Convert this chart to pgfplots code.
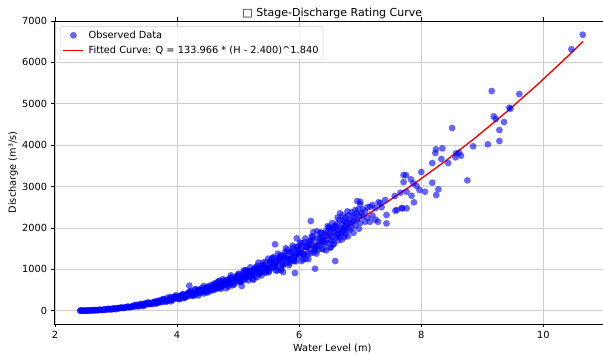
\documentclass[border=0pt]{standalone}
\usepackage{fontspec}
\setmainfont{DejaVu Sans}
\usepackage{pgfplots}
\usepackage{pgfplotstable}
\pgfplotsset{compat=1.18}
\definecolor{gridc}{RGB}{205,205,205}
\definecolor{legc}{RGB}{204,204,204}
\pgfplotstableread{
H Q
2.410 0
2.420 4
2.433 7
2.450 -3
2.467 2
2.483 -3
2.500 9
2.517 0
2.533 7
2.550 -3
2.567 10
2.583 12
2.600 3
2.617 10
2.633 8
2.650 17
2.667 8
2.683 15
2.700 10
2.717 19
2.733 26
2.750 18
2.767 19
2.783 19
2.800 28
2.817 25
2.833 37
2.850 23
2.867 41
2.883 48
2.900 32
2.917 34
2.933 36
2.950 59
2.967 44
2.983 58
3.000 37
3.017 63
3.033 59
3.050 58
3.067 71
3.083 78
3.100 70
3.117 66
3.133 69
3.150 79
3.167 81
3.183 98
3.200 96
3.217 81
3.233 91
3.250 92
3.267 104
3.283 123
3.300 98
3.317 133
3.333 143
3.350 112
3.367 106
3.383 118
3.400 164
3.417 136
3.433 158
3.450 114
3.467 166
3.483 146
3.500 159
3.517 184
3.533 201
3.550 165
3.567 168
3.583 160
3.600 196
3.617 185
3.633 216
3.650 224
3.667 182
3.683 206
3.700 194
3.717 230
3.733 257
3.750 213
3.767 275
3.783 285
3.800 232
3.817 213
3.833 239
3.850 318
3.867 271
3.883 302
3.900 226
3.917 316
3.933 270
3.950 302
3.967 344
3.983 374
4.000 296
4.017 310
4.033 286
4.050 358
4.067 328
4.083 376
4.100 398
4.117 318
4.133 359
4.150 330
4.167 399
4.183 434
4.200 365
4.217 463
4.233 471
4.250 391
4.267 355
4.283 397
4.300 518
4.317 448
4.333 488
4.350 369
4.367 509
4.383 428
4.400 485
4.417 549
4.433 592
4.450 464
4.467 490
4.483 444
4.500 561
4.517 509
4.533 576
4.550 615
4.567 490
4.583 549
4.600 499
4.617 610
4.633 652
4.650 554
4.667 696
4.683 701
4.700 585
4.717 529
4.733 589
4.750 762
4.767 663
4.783 714
4.800 544
4.817 743
4.833 619
4.850 707
4.867 796
4.883 856
4.900 665
4.917 707
4.933 633
4.950 804
4.967 725
4.983 814
5.000 874
5.017 694
5.033 776
5.050 699
5.067 859
5.083 911
5.100 777
5.117 972
5.133 971
5.150 815
5.167 734
5.183 815
5.200 1049
5.217 916
5.233 978
5.250 749
5.267 1017
5.283 842
5.300 965
5.317 1085
5.333 1162
5.350 899
5.367 959
5.383 852
5.400 1086
5.417 976
5.433 1090
5.450 1174
5.467 930
5.483 1037
5.500 931
5.517 1148
5.533 1209
5.550 1034
5.567 1288
5.583 1282
5.600 1078
5.617 970
5.633 1073
5.650 1378
5.667 1205
5.683 1281
5.700 982
5.717 1331
5.733 1097
5.750 1260
5.767 1415
5.783 1510
5.800 1166
5.817 1246
5.833 1102
5.850 1407
5.867 1261
5.883 1403
5.900 1514
5.917 1198
5.933 1332
5.950 1193
5.967 1473
5.983 1545
6.000 1324
6.017 1646
6.033 1631
6.050 1374
6.067 1235
6.083 1364
6.100 1748
6.117 1530
6.133 1620
6.150 1245
6.167 1683
6.183 1381
6.200 1590
6.217 1783
6.233 1900
6.250 1464
6.267 1567
6.283 1380
6.300 1764
6.317 1579
6.333 1751
6.350 1892
6.367 1495
6.383 1661
6.400 1484
6.417 1836
6.433 1918
6.450 1646
6.467 2043
6.483 2019
6.500 1703
6.517 1530
4.625 613
4.675 565
4.725 645
4.775 638
4.825 738
4.875 674
4.925 737
4.975 802
5.025 736
5.075 836
5.125 822
5.175 946
5.225 860
5.275 935
5.325 1014
5.375 926
5.425 1048
5.475 1027
5.525 1178
5.575 1067
5.625 1156
5.675 1248
5.725 1137
5.775 1281
5.825 1252
5.875 1432
5.925 1293
5.975 1397
6.025 1504
6.075 1366
6.125 1537
6.175 1498
6.225 1708
6.275 1539
6.325 1659
6.375 1782
6.425 1616
6.475 1813
3.908 254
3.958 336
4.008 312
4.058 360
4.108 302
4.158 390
4.208 454
4.258 391
4.308 393
4.358 513
4.408 470
4.458 537
4.508 446
4.558 570
4.608 657
4.658 560
4.708 558
4.758 723
4.808 657
4.858 745
4.908 615
4.958 780
5.008 894
5.058 757
5.108 750
5.158 965
5.208 873
5.258 985
5.308 808
5.358 1020
5.408 1163
5.458 980
5.508 967
5.558 1239
5.608 1116
5.658 1254
5.708 1024
5.758 1289
5.808 1464
5.858 1230
5.908 1209
5.958 1544
6.008 1386
6.058 1552
6.108 1265
6.158 1586
6.208 1797
6.258 1505
6.308 1475
6.358 1879
6.408 1683
6.458 1880
6.508 1527
3.392 145
3.442 129
3.492 187
3.542 166
3.592 189
3.642 168
3.692 241
3.742 212
3.792 269
3.842 234
3.892 331
3.942 288
3.992 321
4.042 279
4.092 395
4.142 341
4.192 427
4.242 366
4.292 511
4.342 439
4.392 484
4.442 417
4.492 582
4.542 499
4.592 617
4.642 524
4.692 726
4.742 619
4.792 678
4.842 578
4.892 803
4.942 683
4.992 839
5.042 708
5.092 975
5.142 827
5.192 900
5.242 764
5.292 1055
5.342 892
5.392 1092
5.442 917
5.492 1257
5.542 1062
5.592 1150
5.642 973
5.692 1338
5.742 1128
5.792 1375
5.842 1151
5.892 1572
5.942 1323
5.992 1429
6.042 1204
6.092 1651
6.142 1388
6.192 1688
6.242 1409
6.292 1918
6.342 1611
6.392 1734
6.442 1458
6.492 1995
4.200 604
5.060 597
5.605 1604
5.735 935
5.930 911
5.960 1749
6.190 2167
6.260 1015
6.590 1201
6.510 1850
6.540 2120
6.560 1600
6.580 2050
6.610 1950
6.630 2250
6.650 1850
6.690 2000
6.710 2300
6.730 1950
6.750 2150
6.770 2050
6.790 2400
6.820 2200
6.850 2150
6.880 2300
6.910 2250
6.940 2350
6.970 2450
7.020 2350
6.530 1950
6.530 1690
6.550 1780
6.550 1990
6.570 1620
6.570 1900
6.600 2050
6.600 1760
6.620 1830
6.620 2100
6.640 1700
6.640 1950
6.660 2200
6.660 1780
6.680 1870
6.670 2353
6.700 2080
6.700 1720
6.720 1900
6.720 2180
6.740 2010
6.740 1780
6.760 2250
6.760 1850
6.780 1960
6.780 2120
6.800 2300
6.800 1800
6.830 2100
6.830 1950
6.860 2380
6.860 2000
6.890 2150
6.890 1880
6.920 2433
6.920 2060
6.950 2650
6.950 2200
6.980 1980
6.980 2300
7.000 2571
7.000 2633
7.000 2120
7.040 2280
7.040 2450
7.080 2150
7.080 2400
7.120 2500
7.120 2250
7.160 2513
7.160 2150
7.200 2554
7.200 2300
7.250 2480
7.250 2200
7.290 2150
7.300 2620
7.330 2600
7.350 2500
7.410 2675
7.430 2312
7.430 2110
7.565 2771
7.575 2416
7.600 2433
7.660 2851
7.680 2480
7.690 2474
7.710 3109
7.710 3279
7.750 3271
7.760 2875
7.760 2474
7.830 3175
7.840 2778
7.870 3078
7.880 2619
7.925 3013
7.970 2916
8.000 3351
8.060 2875
8.180 3568
8.180 3093
8.230 3810
8.240 3899
8.245 2795
8.280 2933
8.330 3665
8.345 3923
8.440 3568
8.506 4414
8.560 3706
8.570 3803
8.620 3817
8.650 3745
8.755 3150
8.850 3972
9.090 4020
9.154 5308
9.187 4697
9.220 4631
9.280 4366
9.280 4100
9.355 4559
9.443 4905
9.460 4880
9.607 5235
10.460 6315
10.645 6668
}\obs
\pgfplotstableread{
H Q
2.40 0
2.45 0.5
2.50 1.9
2.60 6.9
2.70 14.6
2.80 24.8
2.90 37.4
3.00 52.3
3.10 69.5
3.20 88.9
3.30 110.3
3.40 134.0
3.50 159.6
3.60 187.4
3.70 217.1
3.80 248.8
3.90 282.5
4.00 318.1
4.20 395.1
4.40 479.6
4.60 571.6
4.80 670.8
5.00 777.2
5.20 890.8
5.40 1011.3
5.60 1139.0
5.80 1273.4
6.00 1414.6
6.20 1562.6
6.40 1717.3
6.60 1878.6
6.80 2046.3
7.00 2221.0
7.40 2588
7.90 3085
8.40 3621
8.90 4196
9.40 4808
9.90 5458
10.40 6147
10.65 6505
}\fit
\begin{document}
\begin{tikzpicture}
\path[use as bounding box, clip] (0pt,0pt) rectangle (603pt,356pt);
\begin{axis}[
  at={(54.1pt,32pt)}, anchor=south west,
  scale only axis, width=556.4pt, height=303pt,
  xmin=1.985, xmax=11.1, ymin=-321, ymax=7000,
  xtick={2,4,6,8,10}, ytick={0,1000,...,7000},
  scaled y ticks=false,
  /pgf/number format/1000 sep={},
  /pgf/number format/assume math mode=true,
  tick label style={font=\fontsize{9.8}{11}\selectfont},
  tick align=outside, major tick length=3.5pt,
  tick style={black, line width=0.8pt},
  axis line style={black, line width=0.8pt},
  grid=major, major grid style={gridc, line width=0.8pt},
  title={□ Stage-Discharge Rating Curve},
  title style={at={(0.5,1)}, anchor=base, yshift=-1.3pt, font=\fontsize{11}{13}\selectfont},
  xlabel={Water Level (m)},
  ylabel={Discharge (m³/s)},
  label style={font=\fontsize{9.8}{11}\selectfont},
  xlabel style={at={(axis description cs:0.5,0)}, anchor=base, yshift=-27.6pt},
  ylabel style={at={(axis description cs:0,0.5)}, anchor=center, xshift=0pt, yshift=41pt},
  legend image code/.code={\draw[mark repeat=2,mark phase=2] plot coordinates {(0pt,0pt) (10pt,0pt) (20pt,0pt)};},
  legend style={at={(0.0106,0.983)}, anchor=north west, draw=legc, rounded corners=2pt,
    fill=white, fill opacity=0.8, text opacity=1, font=\fontsize{9.8}{11}\selectfont,
    inner xsep=2.5pt, inner ysep=2.5pt, row sep=2pt, column sep=2.5pt},
  legend cell align=left,
]
\addplot[forget plot, only marks, mark=*, mark size=3.4pt,
  mark options={draw=blue, fill=blue, draw opacity=0, fill opacity=0.6}]
  table[x=H, y=Q] {\obs};
\addplot[forget plot, red, line width=1.4pt, no marks]
  table[x=H, y=Q] {\fit};
\addlegendimage{only marks, mark=*, mark size=3.4pt, mark options={draw=blue, fill=blue, draw opacity=0, fill opacity=0.6}}
\addlegendentry{Observed Data}
\addlegendimage{red, line width=1.4pt, sharp plot}
\addlegendentry{Fitted Curve: Q = 133.966 * (H - 2.400)\textasciicircum 1.840}
\end{axis}
\end{tikzpicture}
\end{document}
